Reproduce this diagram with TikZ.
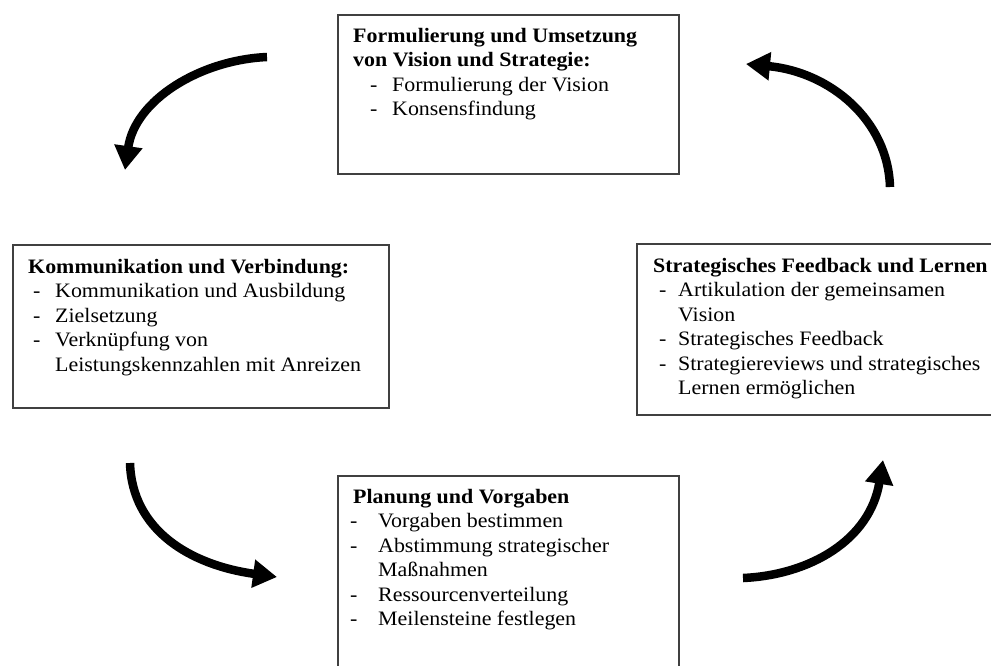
\documentclass[tikz,border=0pt]{standalone}
\usepackage{fontspec}
\setmainfont[FakeStretch=1.07]{Liberation Serif}
\usetikzlibrary{arrows.meta}
% dash item: dash offset, text offset, text
\newcommand\bulletline[3]{\makebox[#2pt][l]{\hspace*{#1pt}-}#3}
% continuation line of an item
\newcommand\contline[2]{\hspace*{#1pt}#2}
\begin{document}
\begin{tikzpicture}[x=1pt,y=-1pt,
  panel/.style={draw=black!75, line width=1.6pt, anchor=north west, inner sep=0pt},
  body/.style={anchor=north west, inner sep=0pt, align=left,
    font=\fontsize{20.5}{24.5}\selectfont},
  bendarrow/.style={line width=8.5pt, -{Triangle[length=24pt,width=27pt]}}]
\useasboundingbox (0,0) rectangle (991,665);
\clip (0,0) rectangle (991,665);

% the four panels
\node[panel, minimum width=341pt, minimum height=159pt] (vision) at (337,14) {};
\node[panel, minimum width=376pt, minimum height=163pt] (komm) at (12,244) {};
\node[panel, minimum width=370pt, minimum height=171pt] (feedback) at (636,243) {};
\node[panel, minimum width=341pt, minimum height=210pt] (planung) at (337,475) {};

% panel texts
\node[body] (visiontxt) at (353,28) {\textbf{Formulierung und Umsetzung}\\
  \textbf{von Vision und Strategie:}\\
  \bulletline{17}{39}{Formulierung der Vision}\\
  \bulletline{17}{39}{Konsensfindung}};
\node[body] (kommtxt) at (28,259) {\textbf{Kommunikation und Verbindung:}\\
  \bulletline{5}{27}{Kommunikation und Ausbildung}\\
  \bulletline{5}{27}{Zielsetzung}\\
  \bulletline{5}{27}{Verknüpfung von}\\
  \contline{27}{Leistungskennzahlen mit Anreizen}};
\node[body] (feedbacktxt) at (653,258) {\textbf{Strategisches Feedback und Lernen}\\
  \bulletline{6}{25}{Artikulation der gemeinsamen}\\
  \contline{25}{Vision}\\
  \bulletline{6}{25}{Strategisches Feedback}\\
  \bulletline{6}{25}{Strategiereviews und strategisches}\\
  \contline{25}{Lernen ermöglichen}};
\node[body] (planungtxt) at (353,489) {\textbf{Planung\ und Vorgaben}\\
  \bulletline{-3}{25}{Vorgaben bestimmen}\\
  \bulletline{-3}{25}{Abstimmung strategischer}\\
  \contline{25}{Maßnahmen}\\
  \bulletline{-3}{25}{Ressourcenverteilung}\\
  \bulletline{-3}{25}{Meilensteine festlegen}};

% arrow end points
\coordinate (tlS) at (267,57);   \coordinate (tlE) at (125,170);
\coordinate (blS) at (130,463);  \coordinate (blE) at (277,577);
\coordinate (brS) at (743,578);  \coordinate (brE) at (883,460);
\coordinate (trS) at (890,187);  \coordinate (trE) at (746,64);

% curved cycle arrows
\draw[bendarrow] (tlS) .. controls (200,60) and (135,100) .. (tlE);
\draw[bendarrow] (blS) .. controls (132,530) and (190,565) .. (blE);
\draw[bendarrow] (brS) .. controls (810,575) and (870,540) .. (brE);
\draw[bendarrow] (trS) .. controls (888,120) and (830,72) .. (trE);
\end{tikzpicture}
\end{document}
